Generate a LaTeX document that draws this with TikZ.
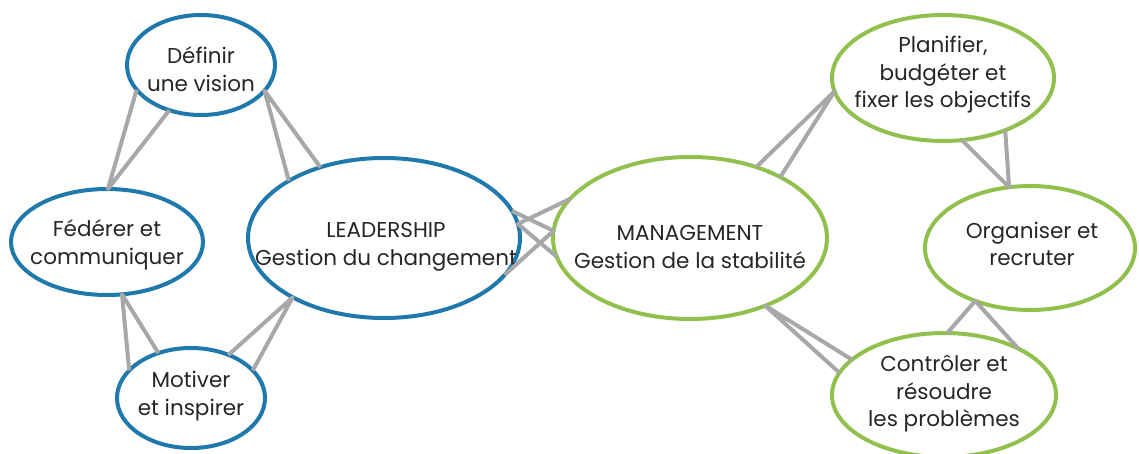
\documentclass[tikz,border=0pt]{standalone}
\usepackage{fontspec}
\setmainfont{Poppins}
\usetikzlibrary{shapes.geometric}
\definecolor{leadblue}{HTML}{2079AD}
\definecolor{mgmtgreen}{HTML}{92C04F}
\definecolor{tiegray}{HTML}{A8A8A8}
\definecolor{ink}{HTML}{262626}
\begin{document}
\begin{tikzpicture}[x=1pt,y=-1pt,
  bubble/.style={ellipse, draw, line width=4pt, inner sep=0pt, outer sep=0pt},
  leadbubble/.style={bubble, draw=leadblue},
  mgmtbubble/.style={bubble, draw=mgmtgreen},
  caption/.style={align=center, text=ink, inner sep=0pt, font=\fontsize{21.5}{27.5}\selectfont},
  tie/.style={draw=tiegray, line width=4pt, line join=round}]
\useasboundingbox (0,0) rectangle (1139,454);

% leadership side
\node[leadbubble, minimum width=148pt, minimum height=100pt] (def) at (201,65) {};
\node[leadbubble, minimum width=192pt, minimum height=106pt] (fed) at (107,242) {};
\node[leadbubble, minimum width=148pt, minimum height=100pt] (mot) at (191,398) {};
\node[leadbubble, minimum width=272pt, minimum height=160pt] (lead) at (384,238) {};

% management side
\node[mgmtbubble, minimum width=274pt, minimum height=162pt] (man) at (690,238) {};
\node[mgmtbubble, minimum width=222pt, minimum height=126pt] (plan) at (943,78) {};
\node[mgmtbubble, minimum width=210pt, minimum height=124pt] (org) at (1030,248) {};
\node[mgmtbubble, minimum width=224pt, minimum height=124pt] (con) at (944,395) {};

% captions
\node[caption] (deft) at (201,69) {Définir\\une vision};
\node[caption] (fedt) at (107,245) {Fédérer et\\communiquer};
\node[caption] (mott) at (191,396) {Motiver\\et inspirer};
\node[caption] (leadt) at (386,247) {LEADERSHIP\\Gestion du changement};
\node[caption] (mant) at (690,247) {MANAGEMENT\\Gestion de la stabilité};
\node[caption] (plant) at (943,75) {Planifier,\\budgéter et\\fixer les objectifs};
\node[caption] (orgt) at (1032,244) {Organiser et\\recruter};
\node[caption] (cont) at (944,394) {Contrôler et\\résoudre\\les problèmes};

% double-stroke links
\draw[tie] (def.201.5) -- (fed.89) -- (def.235.8);
\draw[tie] (lead.149.6) -- (def.338) -- (lead.132.6);
\draw[tie] (mot.156.5) -- (fed.286) -- (mot.126.9);
\draw[tie] (mot.49.7) -- (lead.213.3) -- (mot.24.8);
\draw[tie] (lead.12.5) -- (man.177.9) -- (lead.343);
\draw[tie] (man.162.4) -- (lead.6.3) -- (man.188);
\draw[tie] (man.47.8) -- (plan.187.2) -- (man.34.6);
\draw[tie] (plan.287) -- (org.109.8) -- (plan.320.6);
\draw[tie] (con.159.6) -- (man.318) -- (con.168.3);
\draw[tie] (con.87.3) -- (org.224.5) -- (con.32.3);
\end{tikzpicture}
\end{document}
